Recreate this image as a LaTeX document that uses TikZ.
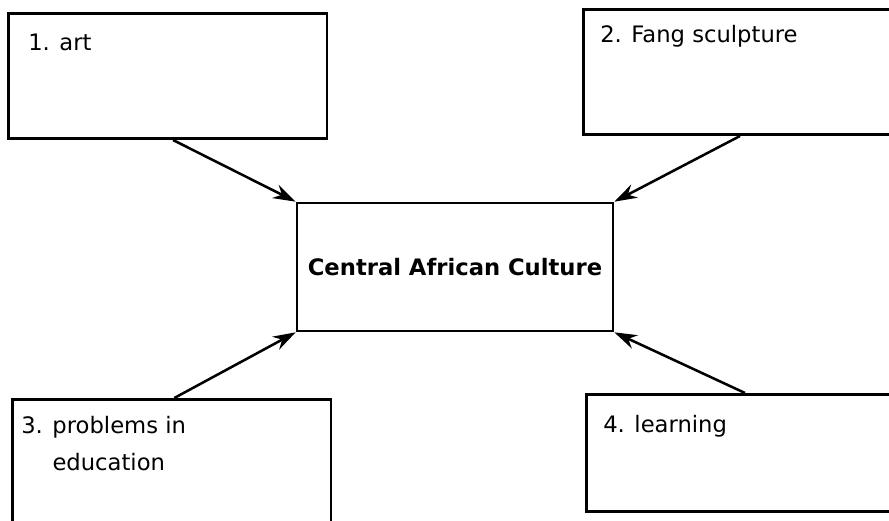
\documentclass[tikz,border=0pt]{standalone}
\usepackage{fontspec}
\setmainfont{DejaVu Sans}
\usepackage{tikz}
\usetikzlibrary{arrows.meta,positioning}

\tikzset{
  topic/.style={draw, line width=2pt, inner sep=0pt, anchor=north west},
  hub/.style={draw, line width=2pt, inner sep=0pt, minimum width=237pt, minimum height=96pt,
    font=\fontsize{17}{20}\selectfont\bfseries},
  lbl/.style={anchor=base west, inner sep=0pt, align=left, font=\fontsize{17}{27.75}\selectfont},
  link/.style={line width=1.9pt, -{Stealth[length=17pt,width=11pt]}}
}

\begin{document}
\begin{tikzpicture}[x=0.75pt,y=0.75pt,yscale=-1]
\clip (0,0) rectangle (889,521);
\fill[white] (0,0) rectangle (889,521);

%Central box
\node[hub] (culture) at (455,267) {Central African Culture};

%Topic boxes
\node[topic, minimum width=239pt, minimum height=94pt] (art) at (7,12) {};
\node[topic, minimum width=235pt, minimum height=94pt] (fang) at (582,8) {};
\node[topic, minimum width=239pt, minimum height=100pt] (problems) at (11,398) {};
\node[topic, minimum width=238pt, minimum height=88pt] (learning) at (585,393) {};

% Text Node
\node[lbl] (artlbl) at (28,50) {1. art};
% Text Node
\node[lbl] (fanglbl) at (600,42) {2. Fang sculpture};
% Text Node (base = last line)
\node[lbl] (problemslbl) at (21,470) {3. problems in\\\phantom{3. }education};
% Text Node
\node[lbl] (learninglbl) at (603,432) {4. learning};

%Arrows
\draw[link] ([xshift=4pt]art.south) -- (culture.north west);
\draw[link] (fang.south) -- (culture.north east);
\draw[link] ([xshift=2pt]problems.north) -- (culture.south west);
\draw[link] (learning.north) -- (culture.south east);

\end{tikzpicture}
\end{document}
